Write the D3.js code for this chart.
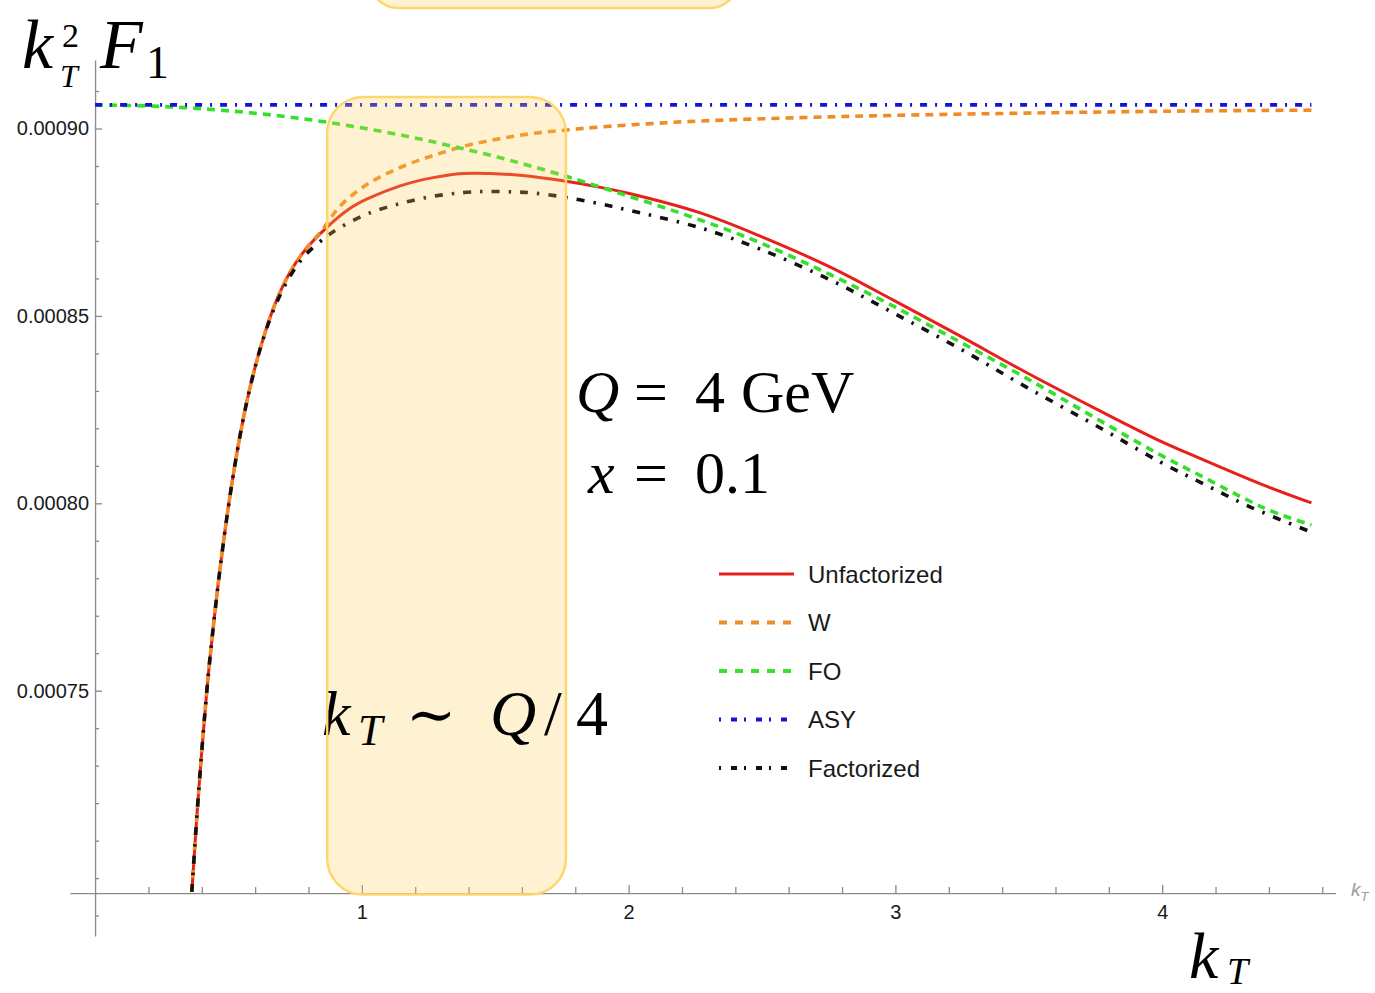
<!DOCTYPE html>
<html>
<head>
<meta charset="utf-8">
<script src="https://cdn.jsdelivr.net/npm/d3@7"></script>
<style>
  html, body { margin: 0; padding: 0; background: #fff; }
  svg { display: block; }
</style>
</head>
<body>
<svg id="chart" width="1375" height="993"></svg>
<script>
// k_T^2 F_1 versus k_T at Q = 4 GeV, x = 0.1  — [kT, value] pairs
const unfactorized = [
  [0.3626, 0.0006963], [0.3873, 0.0007222], [0.4188, 0.0007499], [0.4387, 0.0007641],
  [0.4687, 0.0007827], [0.5062, 0.0008022], [0.5437, 0.0008182], [0.5812, 0.0008310],
  [0.6262, 0.0008430], [0.6749, 0.0008532], [0.7312, 0.0008617], [0.7874, 0.0008676],
  [0.8699, 0.0008737], [0.9561, 0.0008787], [1.0199, 0.0008812], [1.1436, 0.0008847],
  [1.2673, 0.0008869], [1.3798, 0.0008880], [1.4811, 0.0008880], [1.5936, 0.0008875],
  [1.7660, 0.0008859], [1.8935, 0.0008843], [1.9948, 0.0008828], [2.2685, 0.0008775],
  [2.4934, 0.0008713], [2.7560, 0.0008630], [2.9922, 0.0008542], [3.2433, 0.0008446],
  [3.4908, 0.0008349], [3.7683, 0.0008246], [3.9933, 0.0008166], [4.1545, 0.0008116],
  [4.3682, 0.0008052], [4.5594, 0.0008001]
];
const wTerm = [
  [0.3626, 0.0006963], [0.3873, 0.0007222], [0.4188, 0.0007499], [0.4387, 0.0007641],
  [0.4687, 0.0007827], [0.5062, 0.0008022], [0.5437, 0.0008182], [0.5812, 0.0008310],
  [0.6262, 0.0008430], [0.6749, 0.0008532], [0.7312, 0.0008617], [0.7874, 0.0008676],
  [0.8512, 0.0008729], [0.9186, 0.0008793], [1.0199, 0.0008851], [1.1436, 0.0008896],
  [1.2673, 0.0008928], [1.3948, 0.0008955], [1.5186, 0.0008973], [1.6423, 0.0008987],
  [1.7660, 0.0008996], [1.8935, 0.0009004], [2.0810, 0.0009013], [2.2685, 0.0009020],
  [2.6434, 0.0009029], [2.9922, 0.0009035], [3.3933, 0.0009040], [3.7683, 0.0009044],
  [4.1432, 0.0009047], [4.5594, 0.0009049]
];
const fixedOrder = [
  [0.0000, 0.0009063], [0.2062, 0.0009060], [0.3937, 0.0009053], [0.5812, 0.0009042],
  [0.7687, 0.0009027], [0.9561, 0.0009007], [1.1436, 0.0008983], [1.3310, 0.0008954],
  [1.5186, 0.0008922], [1.7060, 0.0008885], [1.8935, 0.0008844], [2.2685, 0.0008756],
  [2.4934, 0.0008695], [2.7560, 0.0008610], [2.9922, 0.0008526], [3.2433, 0.0008430],
  [3.4908, 0.0008334], [3.7683, 0.0008220], [3.9933, 0.0008129], [4.1545, 0.0008070],
  [4.3045, 0.0008014], [4.4170, 0.0007977], [4.5594, 0.0007942]
];
const asymptotic = [
  [0.0000, 0.0009063], [4.5594, 0.0009063]
];
const factorized = [
  [0.3626, 0.0006963], [0.3873, 0.0007222], [0.4188, 0.0007499], [0.4387, 0.0007641],
  [0.4687, 0.0007827], [0.5062, 0.0008022], [0.5437, 0.0008182], [0.5812, 0.0008310],
  [0.6262, 0.0008430], [0.6749, 0.0008526], [0.7312, 0.0008606], [0.7874, 0.0008662],
  [0.8699, 0.0008713], [0.9186, 0.0008736], [1.0199, 0.0008772], [1.1436, 0.0008800],
  [1.2673, 0.0008819], [1.3798, 0.0008829], [1.4623, 0.0008832], [1.5561, 0.0008831],
  [1.6423, 0.0008828], [1.7660, 0.0008816], [1.8935, 0.0008799], [1.9948, 0.0008783],
  [2.2685, 0.0008735], [2.4934, 0.0008678], [2.7560, 0.0008596], [2.9922, 0.0008508],
  [3.2433, 0.0008412], [3.4908, 0.0008310], [3.7683, 0.0008201], [3.9933, 0.0008110],
  [4.1545, 0.0008052], [4.3307, 0.0007990], [4.5594, 0.0007923]
];

const seriesNames = ["Unfactorized", "W", "FO", "ASY", "Factorized"];
const seriesColors = ["#e8201c", "#f08c28", "#33e02a", "#1414d6", "#111111"];
const seriesDashes = [null, "8,6", "8,6", "7,8,2,8", "8,9,2.5,9"];
const legendDashes = [null, "8,8", "8,8", "2,10,6,7", "2,10,6,7"];
const seriesWidths = [3, 3.6, 3.6, 3.6, 3.6];

const xMajorTicks = [1, 2, 3, 4];
const yMajorTicks = [0.00075, 0.00080, 0.00085, 0.00090];

const svg = d3.select("#chart");

// scales
const x = d3.scaleLinear().domain([-0.094, 4.65]).range([70, 1335.6]);
const y = d3.scaleLinear().domain([0.00068455, 0.00091828]).range([936, 60]);
const yOrigin = 0.000696;
const axisY = y(yOrigin);
const axisX = x(0);

// minor tick positions
const xMinor = d3.range(0.2, 4.61, 0.2).filter(v => Math.abs(v - Math.round(v)) > 1e-6);
const yMinor = d3.range(0.00069, 0.000915, 0.00001).filter(v =>
  yMajorTicks.every(t => Math.abs(t - v) > 1e-9));

// axes
const axisColor = "#8a8a8a";
const labelFont = "'Liberation Sans', Arial, Helvetica, sans-serif";

svg.append("g").attr("transform", `translate(0,${axisY})`)
  .call(d3.axisBottom(x).tickValues(xMajorTicks).tickFormat(d3.format("d"))
    .tickSizeInner(-8).tickSizeOuter(0).tickPadding(12));
svg.append("g").attr("transform", `translate(0,${axisY})`)
  .call(d3.axisBottom(x).tickValues(xMinor).tickFormat("")
    .tickSizeInner(-6).tickSizeOuter(0))
  .select(".domain").remove();

svg.append("g").attr("transform", `translate(${axisX},0)`)
  .call(d3.axisLeft(y).tickValues(yMajorTicks).tickFormat(d3.format(".5f"))
    .tickSizeInner(-7).tickSizeOuter(0).tickPadding(6));
svg.append("g").attr("transform", `translate(${axisX},0)`)
  .call(d3.axisLeft(y).tickValues(yMinor).tickFormat("")
    .tickSizeInner(-4).tickSizeOuter(0))
  .select(".domain").remove();

svg.selectAll(".domain, .tick line")
  .attr("stroke", axisColor).attr("stroke-width", 1.3);
svg.selectAll(".tick text")
  .attr("fill", "#1a1a1a").style("font-family", labelFont).style("font-size", "20px");

// small axis label at the end of the horizontal axis
const axLab = svg.append("text")
  .attr("x", 1351).attr("y", 896)
  .attr("fill", "#9a9a9a")
  .style("font-family", labelFont).style("font-style", "italic").style("font-size", "19px");
axLab.append("tspan").text("k");
axLab.append("tspan").attr("dy", 5).style("font-size", "13px").text("T");

// curves
svg.append("clipPath").attr("id", "plotClip")
  .append("rect").attr("x", 70).attr("y", 0).attr("width", 1270).attr("height", axisY);

const line = d3.line()
  .x(d => x(d[0])).y(d => y(d[1]))
  .curve(d3.curveCatmullRom.alpha(0.5));

const seriesData = [unfactorized, wTerm, fixedOrder, asymptotic, factorized];
const curves = svg.append("g").attr("clip-path", "url(#plotClip)");
seriesData.forEach((data, i) => {
  curves.append("path")
    .datum(data)
    .attr("d", line)
    .attr("fill", "none")
    .attr("stroke", seriesColors[i])
    .attr("stroke-width", seriesWidths[i])
    .attr("stroke-dasharray", seriesDashes[i])
    .attr("stroke-linecap", "butt")
    .attr("stroke-linejoin", "round");
});

// legend
const legend = svg.append("g");
const legendRows = [574, 622.5, 671, 719.5, 768];
seriesNames.forEach((name, i) => {
  legend.append("line")
    .attr("x1", 719).attr("x2", 794)
    .attr("y1", legendRows[i]).attr("y2", legendRows[i])
    .attr("stroke", seriesColors[i])
    .attr("stroke-width", i === 0 ? 3 : 4)
    .attr("stroke-dasharray", legendDashes[i]);
  legend.append("text")
    .attr("x", 808).attr("y", legendRows[i] + 8.5)
    .attr("fill", "#1a1a1a")
    .style("font-family", labelFont).style("font-size", "24px")
    .text(name);
});

// highlighted band around k_T ~ Q/4
const bandFill = "rgb(250,205,80)";
const bandStroke = "#fdd66e";
const band = { x0: x(0.87), x1: x(1.765), y0: y(0.0009084), y1: axisY + 1.5 };
svg.append("rect")
  .attr("x", band.x0).attr("y", band.y0)
  .attr("width", band.x1 - band.x0).attr("height", band.y1 - band.y0)
  .attr("rx", 36).attr("ry", 36)
  .attr("fill", bandFill).attr("fill-opacity", 0.26);

// second box, mostly above the top edge
svg.append("rect")
  .attr("x", 370).attr("y", -60).attr("width", 368).attr("height", 68)
  .attr("rx", 28).attr("ry", 28)
  .attr("fill", bandFill).attr("fill-opacity", 0.26)
  .attr("stroke", bandStroke).attr("stroke-width", 2.5);

// math annotations: each formula is one text element built from positioned pieces
const mathFont = "'Liberation Serif', 'DejaVu Serif', 'Times New Roman', serif";
function formula(parts) {
  const t = svg.append("text")
    .attr("fill", "#000")
    .style("font-family", mathFont);
  parts.forEach(p => {
    t.append("tspan")
      .attr("x", p[0]).attr("y", p[1])
      .style("font-size", p[2] + "px")
      .style("font-style", p[4] ? "italic" : "normal")
      .text(p[3]);
  });
  return t;
}

// y-axis title: k_T^2 F_1
formula([[22, 68, 70, "k", true], [62, 47, 34, "2", false], [60, 87, 32, "T", true],
         [100, 68, 70, "F", true], [146, 78, 46, "1", false]]);

// x-axis title: k_T
formula([[1189, 978, 66, "k", true], [1227, 984, 38, "T", true]]);

// parameters
formula([[576, 412, 60, "Q", true], [634, 412, 60, "=", false],
         [695, 412, 60, "4", false], [741, 412, 60, "GeV", false]]);
formula([[588, 493, 60, "x", true], [634, 493, 60, "=", false],
         [695, 493, 60, "0.1", false]]);

// k_T ~ Q/4
formula([[322, 735, 64, "k", true], [358, 745, 44, "T", true],
         [406, 735, 60, "\u223C", false], [490, 735, 64, "Q", true],
         [544, 735, 64, "/", false], [576, 735, 64, "4", false]]);

// band outline on top
svg.append("rect")
  .attr("x", band.x0).attr("y", band.y0)
  .attr("width", band.x1 - band.x0).attr("height", band.y1 - band.y0)
  .attr("rx", 36).attr("ry", 36)
  .attr("fill", "none")
  .attr("stroke", bandStroke).attr("stroke-width", 2.5);
</script>
</body>
</html>
